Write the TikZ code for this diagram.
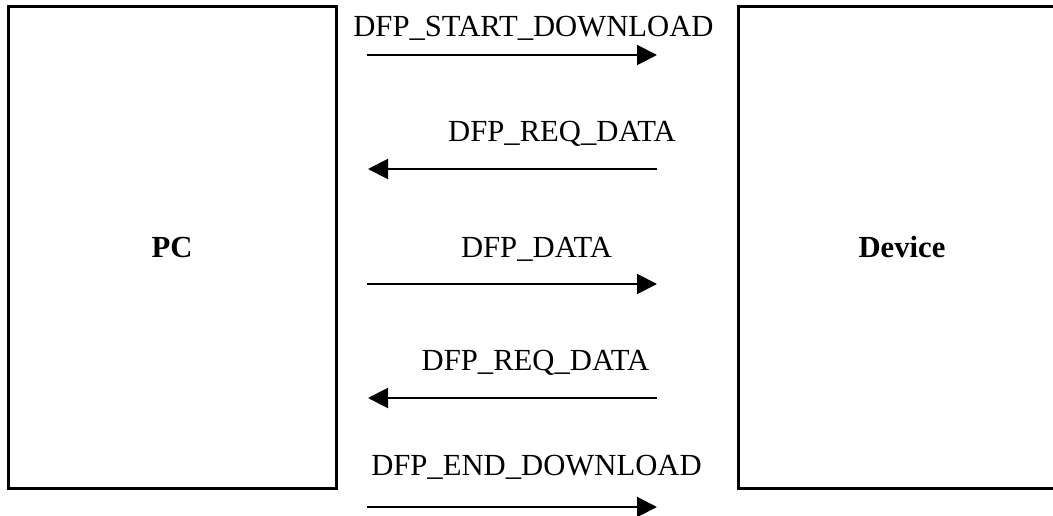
\documentclass[tikz,border=0pt]{standalone}
\usepackage{fontspec}
\setmainfont{Liberation Serif}
\usetikzlibrary{arrows.meta}

\tikzset{
  party/.style={draw, line width=2.25pt, inner sep=0pt, minimum width=246pt, minimum height=360.75pt, font=\fontsize{23}{28}\selectfont\bfseries},
  msg/.style={line width=1.5pt, -{Triangle[length=15pt,width=15pt]}},
  lbl/.style={inner sep=0pt, anchor=base, font=\fontsize{23}{28}\selectfont}
}

\begin{document}
\begin{tikzpicture}[x=0.75pt,y=0.75pt,yscale=-1,xscale=1]
    \useasboundingbox (0,0) rectangle (1053,516);

    %Boxes
    \node [party] (pc) at (172,247.5) {PC};
    \node [party] (dev) at (902,247.5) {Device};

    %Arrow ends
    \coordinate (a1) at (367,55);   \coordinate (b1) at (657,55);
    \coordinate (a2) at (368,169);  \coordinate (b2) at (657,169);
    \coordinate (a3) at (367,284);  \coordinate (b3) at (657,284);
    \coordinate (a4) at (368,398);  \coordinate (b4) at (657,398);
    \coordinate (a5) at (367,507);  \coordinate (b5) at (657,507);

    %Messages
    \draw [msg] (a1) -- (b1) ;
    \draw [msg] (b2) -- (a2) ;
    \draw [msg] (a3) -- (b3) ;
    \draw [msg] (b4) -- (a4) ;
    \draw [msg] (a5) -- (b5) ;

    % Text Node
    \node [lbl] (t1) at (533.5,37) {DFP\_START\_DOWNLOAD};
    % Text Node
    \node [lbl] (t2) at (562,142) {DFP\_REQ\_DATA};
    % Text Node
    \node [lbl] (t3) at (536.5,258) {DFP\_DATA};
    % Text Node
    \node [lbl] (t4) at (535.5,371) {DFP\_REQ\_DATA};
    % Text Node
    \node [lbl] (t5) at (536.5,475) {DFP\_END\_DOWNLOAD};
\end{tikzpicture}
\end{document}
